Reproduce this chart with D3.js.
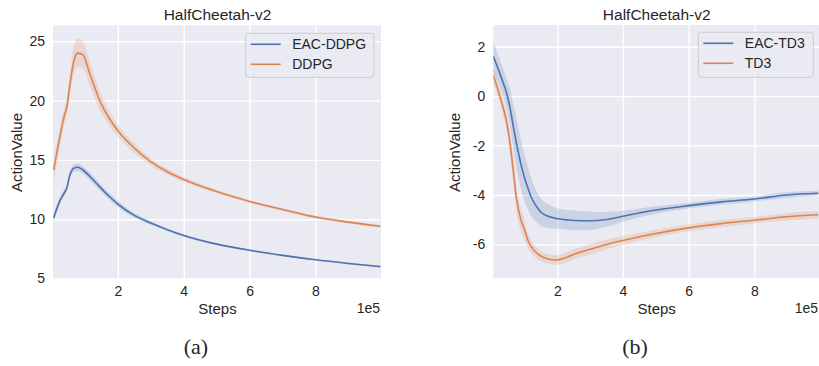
<!DOCTYPE html>
<html>
<head>
<meta charset="utf-8">
<script src="https://cdn.jsdelivr.net/npm/d3@7"></script>
<style>
  html, body { margin: 0; padding: 0; background: #ffffff; }
  svg { display: block; }
  text { font-family: "Liberation Sans", Arial, sans-serif; fill: #262626; }
</style>
</head>
<body>
<svg id="chart" width="819" height="366"></svg>
<script>
// ---------- Data (steps in units of 1e5) ----------
const titleText = "HalfCheetah-v2";
const xTicks = [2, 4, 6, 8];

// Panel (a)
const stepsA = [0.05, 0.23, 0.39, 0.44, 0.54, 0.66, 0.78, 0.94, 1.15, 1.45, 1.75, 2.0, 2.5, 3.0, 3.5, 4.0, 5.0, 6.0, 7.0, 8.0, 9.0, 9.97];
const eacDdpgMean = [10.1, 11.5, 12.3, 12.55, 13.7, 14.3, 14.38, 14.15, 13.6, 12.73, 11.89, 11.27, 10.32, 9.68, 9.12, 8.63, 7.9, 7.38, 6.95, 6.58, 6.27, 6.0];
const eacDdpgHi   = [10.4, 11.8, 12.6, 12.85, 14.0, 14.6, 14.7, 14.45, 13.93, 13.01, 12.16, 11.54, 10.52, 9.83, 9.22, 8.73, 7.98, 7.45, 7.02, 6.65, 6.34, 6.07];
const eacDdpgLo   = [9.8, 11.2, 12.0, 12.25, 13.4, 14.0, 14.05, 13.85, 13.27, 12.45, 11.62, 11.0, 10.12, 9.53, 9.02, 8.53, 7.82, 7.31, 6.88, 6.51, 6.2, 5.93];
const ddpgMean = [14.15, 16.8, 18.9, 19.3, 21.3, 23.3, 24.0, 23.85, 22.25, 20.0, 18.45, 17.45, 16.0, 14.85, 14.0, 13.35, 12.33, 11.5, 10.82, 10.18, 9.75, 9.4];
const ddpgHi   = [15.1, 17.6, 19.6, 20.0, 22.2, 24.5, 25.25, 25.0, 23.25, 20.8, 19.05, 17.95, 16.4, 15.15, 14.25, 13.55, 12.48, 11.62, 10.94, 10.3, 9.87, 9.52];
const ddpgLo   = [13.2, 16.0, 18.2, 18.6, 20.4, 22.2, 22.8, 22.7, 21.25, 19.2, 17.85, 16.95, 15.6, 14.55, 13.75, 13.15, 12.18, 11.38, 10.7, 10.06, 9.63, 9.28];
const yTicksA = [5, 10, 15, 20, 25];
const legendA = ["EAC-DDPG", "DDPG"];

// Panel (b)
const stepsB = [0.05, 0.3, 0.45, 0.55, 0.65, 0.75, 0.9, 1.0, 1.11, 1.21, 1.41, 1.51, 1.72, 1.94, 2.33, 2.53, 3.0, 3.5, 4.0, 5.0, 6.0, 7.0, 8.0, 9.0, 9.95];
const eacTd3Mean = [1.61, 0.73, 0.15, -0.4, -1.15, -1.88, -2.8, -3.3, -3.75, -4.1, -4.55, -4.71, -4.86, -4.94, -5.01, -5.03, -5.04, -4.99, -4.86, -4.61, -4.43, -4.28, -4.16, -4.0, -3.93];
const eacTd3Hi   = [2.23, 1.28, 0.75, 0.35, -0.25, -0.88, -1.8, -2.35, -2.9, -3.35, -3.95, -4.16, -4.38, -4.52, -4.61, -4.63, -4.68, -4.69, -4.64, -4.46, -4.31, -4.16, -4.06, -3.88, -3.83];
const eacTd3Lo   = [0.99, 0.18, -0.45, -1.15, -2.05, -2.88, -3.8, -4.25, -4.6, -4.85, -5.15, -5.26, -5.34, -5.36, -5.41, -5.43, -5.42, -5.29, -5.08, -4.76, -4.55, -4.4, -4.26, -4.12, -4.03];
const td3Mean = [0.85, -0.23, -1.0, -1.82, -2.9, -4.1, -5.05, -5.4, -5.85, -6.1, -6.39, -6.48, -6.59, -6.63, -6.5, -6.39, -6.2, -6.0, -5.84, -5.56, -5.33, -5.16, -5.02, -4.88, -4.8];
const td3Hi   = [1.15, 0.07, -0.65, -1.37, -2.4, -3.6, -4.6, -5.0, -5.55, -5.85, -6.17, -6.28, -6.39, -6.43, -6.3, -6.19, -5.98, -5.8, -5.66, -5.41, -5.18, -5.01, -4.89, -4.73, -4.65];
const td3Lo   = [0.55, -0.53, -1.35, -2.27, -3.4, -4.6, -5.5, -5.8, -6.15, -6.35, -6.61, -6.68, -6.79, -6.83, -6.7, -6.59, -6.42, -6.2, -6.02, -5.71, -5.48, -5.31, -5.15, -5.03, -4.95];
const yTicksB = [-6, -4, -2, 0, 2];
const legendB = ["EAC-TD3", "TD3"];

const captions = ["(a)", "(b)"];
const BLUE = "#4c72b0", ORANGE = "#dd8452";

// ---------- Drawing ----------
const svg = d3.select("#chart");

function panel(cfg) {
  const g = svg.append("g");
  const x = d3.scaleLinear().domain(cfg.xDomain).range([cfg.left, cfg.right]);
  const y = d3.scaleLinear().domain(cfg.yDomain).range([cfg.bottom, cfg.top]);

  const clipId = "clip" + cfg.id;
  svg.append("defs").append("clipPath").attr("id", clipId)
    .append("rect").attr("x", cfg.left).attr("y", cfg.top)
    .attr("width", cfg.right - cfg.left).attr("height", cfg.bottom - cfg.top);

  g.append("rect").attr("x", cfg.left).attr("y", cfg.top)
    .attr("width", cfg.right - cfg.left).attr("height", cfg.bottom - cfg.top)
    .attr("fill", "#eaeaf2");

  const gx = g.append("g").attr("transform", `translate(0,${cfg.bottom})`)
    .call(d3.axisBottom(x).tickValues(xTicks).tickSize(-(cfg.bottom - cfg.top)).tickPadding(8).tickFormat(d3.format("d")));
  gx.select(".domain").remove();
  gx.selectAll("line").attr("stroke", "#ffffff").attr("stroke-width", 1.4);
  gx.selectAll("text").attr("font-size", 14).attr("fill", "#262626")
    .attr("font-family", '"Liberation Sans", Arial, sans-serif');

  const gy = g.append("g").attr("transform", `translate(${cfg.left},0)`)
    .call(d3.axisLeft(y).tickValues(cfg.yTicks).tickSize(-(cfg.right - cfg.left)).tickPadding(8)
      .tickFormat(d => String(d)));
  gy.select(".domain").remove();
  gy.selectAll("line").attr("stroke", "#ffffff").attr("stroke-width", 1.4);
  gy.selectAll("text").attr("font-size", 14).attr("fill", "#262626")
    .attr("font-family", '"Liberation Sans", Arial, sans-serif');

  const data = g.append("g").attr("clip-path", `url(#${clipId})`);
  cfg.series.forEach(s => {
    const pts = cfg.steps.map((st, i) => ({ x: st, lo: s.lo[i], hi: s.hi[i] }));
    data.append("path").datum(pts)
      .attr("d", d3.area().x(d => x(d.x)).y0(d => y(d.lo)).y1(d => y(d.hi)).curve(d3.curveMonotoneX))
      .attr("fill", s.color).attr("fill-opacity", 0.2);
  });
  cfg.series.forEach(s => {
    const pts = cfg.steps.map((st, i) => ({ x: st, m: s.mean[i] }));
    data.append("path").datum(pts)
      .attr("d", d3.line().x(d => x(d.x)).y(d => y(d.m)).curve(d3.curveMonotoneX))
      .attr("fill", "none").attr("stroke", s.color).attr("stroke-width", 1.6);
  });

  g.append("text").attr("x", cfg.titleX).attr("y", 20).attr("text-anchor", "middle")
    .attr("font-size", 15.5).text(titleText);
  g.append("text").attr("x", cfg.titleX).attr("y", 314).attr("text-anchor", "middle")
    .attr("font-size", 15).text("Steps");
  g.append("text").attr("x", Math.min(cfg.right, 819) - 1).attr("y", 313).attr("text-anchor", "end")
    .attr("font-size", 14).text("1e5");
  g.append("text").attr("transform", `translate(${cfg.yLabelX},152.5) rotate(-90)`)
    .attr("text-anchor", "middle").attr("font-size", 15).text("ActionValue");

  const L = cfg.legend;
  g.append("rect").attr("x", L.x).attr("y", L.y).attr("width", L.w).attr("height", L.h)
    .attr("rx", 3).attr("fill", "#eaeaf2").attr("fill-opacity", 0.8)
    .attr("stroke", "#cccccc").attr("stroke-width", 1);
  cfg.series.forEach((s, i) => {
    const ly = L.y + 11 + i * 20;
    g.append("line").attr("x1", L.x + 5).attr("x2", L.x + 35).attr("y1", ly).attr("y2", ly)
      .attr("stroke", s.color).attr("stroke-width", 1.6);
    g.append("text").attr("x", L.x + 46.5).attr("y", ly + 5).attr("font-size", 14).text(s.name);
  });

  g.append("text").attr("x", cfg.captionX).attr("y", 354).attr("text-anchor", "middle")
    .attr("font-size", 22).style("font-family", '"Liberation Serif", "DejaVu Serif", serif')
    .text(cfg.caption);
}

panel({
  id: "A", left: 53, right: 381, top: 25.3, bottom: 278.5,
  xDomain: [0.03, 9.99], yDomain: [5, 26.35], yTicks: yTicksA,
  steps: stepsA,
  series: [
    { name: legendA[0], color: BLUE, mean: eacDdpgMean, lo: eacDdpgLo, hi: eacDdpgHi },
    { name: legendA[1], color: ORANGE, mean: ddpgMean, lo: ddpgLo, hi: ddpgHi }
  ],
  titleX: 217.5, yLabelX: 22,
  legend: { x: 245.7, y: 33.3, w: 128.3, h: 44 },
  captionX: 196, caption: captions[0]
});

panel({
  id: "B", left: 493.3, right: 820, top: 25, bottom: 278,
  xDomain: [0.05, 10], yDomain: [-7.36, 2.88], yTicks: yTicksB,
  steps: stepsB,
  series: [
    { name: legendB[0], color: BLUE, mean: eacTd3Mean, lo: eacTd3Lo, hi: eacTd3Hi },
    { name: legendB[1], color: ORANGE, mean: td3Mean, lo: td3Lo, hi: td3Hi }
  ],
  titleX: 656.7, yLabelX: 460,
  legend: { x: 698.3, y: 32.3, w: 115, h: 45 },
  captionX: 635, caption: captions[1]
});
</script>
</body>
</html>
